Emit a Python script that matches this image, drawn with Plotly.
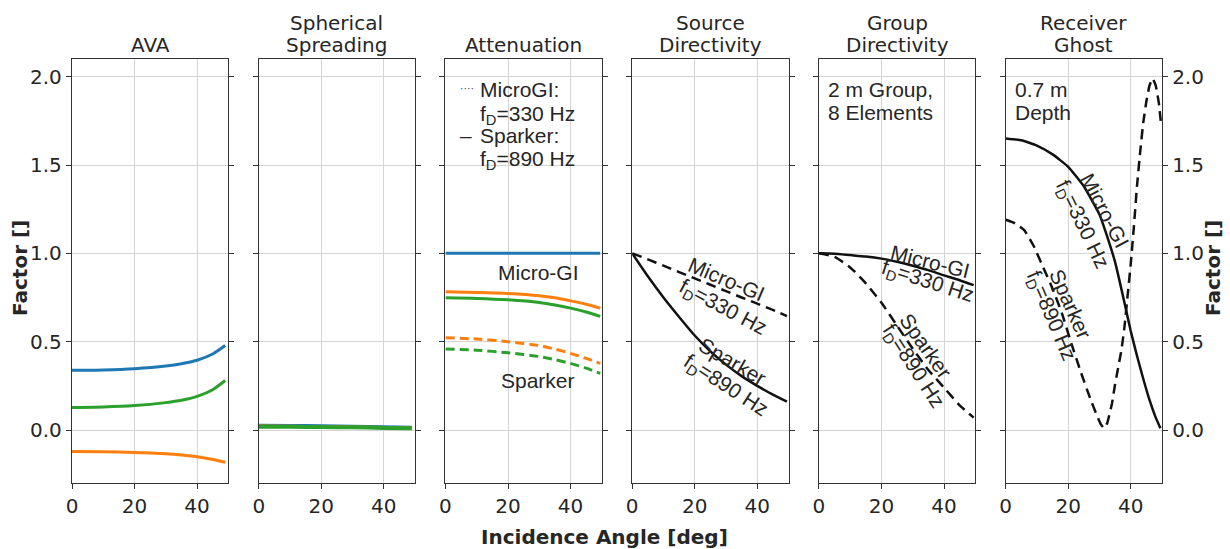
import plotly.graph_objects as go
from plotly.subplots import make_subplots

# ---------------- data ----------------
titles = ["AVA", "Spherical<br>Spreading", "Attenuation", "Source<br>Directivity",
          "Group<br>Directivity", "Receiver<br>Ghost"]

# AVA
ava_ang = [0, 10, 20, 30, 35, 40, 45, 49]
ava_blue = [0.338, 0.340, 0.347, 0.362, 0.375, 0.395, 0.430, 0.478]
ava_green = [0.127, 0.130, 0.138, 0.155, 0.168, 0.190, 0.228, 0.280]
ava_orange = [-0.122, -0.123, -0.127, -0.135, -0.142, -0.152, -0.167, -0.183]

# Spherical spreading
sph_ang = [0, 10, 20, 30, 40, 49]
sph_blue = [0.027, 0.026, 0.024, 0.021, 0.018, 0.015]
sph_orange = [0.022, 0.021, 0.019, 0.017, 0.014, 0.012]
sph_green = [0.019, 0.018, 0.017, 0.015, 0.012, 0.010]

# Attenuation
att_ang = [0, 10, 20, 30, 35, 40, 45, 49.5]
att_blue = [1.0, 1.0, 1.0, 1.0, 1.0, 1.0, 1.0, 1.0]
att_orange_mgi = [0.782, 0.779, 0.773, 0.760, 0.748, 0.731, 0.712, 0.690]
att_green_mgi = [0.748, 0.745, 0.737, 0.722, 0.708, 0.690, 0.668, 0.643]
att_orange_spk = [0.522, 0.515, 0.500, 0.478, 0.458, 0.434, 0.405, 0.377]
att_green_spk = [0.458, 0.452, 0.437, 0.416, 0.398, 0.377, 0.350, 0.320]

# Source directivity
src_ang = [0, 5, 10, 15, 20, 25, 30, 35, 40, 45, 49.5]
src_mgi = [1.0, 0.966, 0.930, 0.894, 0.858, 0.822, 0.786, 0.750, 0.715, 0.680, 0.644]
src_spk = [1.0, 0.87, 0.75, 0.64, 0.535, 0.445, 0.37, 0.305, 0.25, 0.20, 0.16]

# Group directivity
grp_ang = [0, 5, 10, 15, 20, 25, 30, 35, 40, 45, 49.5]
grp_mgi = [1.0, 0.998, 0.99, 0.982, 0.97, 0.952, 0.93, 0.905, 0.875, 0.848, 0.82]
grp_spk = [1.0, 0.98, 0.92, 0.83, 0.72, 0.59, 0.46, 0.34, 0.24, 0.14, 0.07]

# Receiver ghost
gh_ang_mgi = [0, 5, 10, 15, 20, 25, 30, 32, 35, 38, 40, 42, 44, 46, 48, 49.5]
gh_mgi = [1.65, 1.64, 1.61, 1.56, 1.49, 1.38, 1.22, 1.12, 0.95, 0.72, 0.56, 0.42,
          0.29, 0.17, 0.07, 0.01]
gh_ang_spk = [0, 3, 6, 9, 12, 15, 18, 21, 24, 27, 29, 30.5, 31.5, 32.5, 34, 35, 37, 38,
              39, 40, 41, 42, 43, 44, 45, 46, 47, 48, 49, 49.7]
gh_spk = [1.19, 1.17, 1.13, 1.04, 0.92, 0.80, 0.66, 0.49, 0.33, 0.18, 0.09, 0.03, 0.01,
          0.04, 0.15, 0.26, 0.45, 0.585, 0.76, 0.94, 1.15, 1.38, 1.57, 1.74, 1.86, 1.95,
          1.99, 1.95, 1.85, 1.73]

x_ticks = [0, 20, 40]
y_ticks = [0.0, 0.5, 1.0, 1.5, 2.0]
y_tick_text = ["0.0", "0.5", "1.0", "1.5", "2.0"]

BLUE, ORANGE, GREEN, BLACK = "#1f77b4", "#ff7f0e", "#2ca02c", "#111111"
TXT = "#262626"
TICKFONT = dict(family="DejaVu Sans", size=20, color=TXT)
ANNFONT = dict(family="Liberation Sans, Arial", size=21, color=TXT)

L, R, T, B = 72, 68, 59, 66
W, H = 1230, 549
PW, PH = W - L - R, H - T - B

fig = make_subplots(rows=1, cols=6, horizontal_spacing=0.0279)


def line(col, x, y, color, width=3, dash="solid", smooth=0.6):
    fig.add_trace(go.Scatter(x=x, y=y, mode="lines",
                             line=dict(color=color, width=width, dash=dash,
                                       shape="spline", smoothing=smooth),
                             showlegend=False, hoverinfo="skip"), row=1, col=col)


line(1, ava_ang, ava_blue, BLUE)
line(1, ava_ang, ava_green, GREEN)
line(1, ava_ang, ava_orange, ORANGE)

line(2, sph_ang, sph_blue, BLUE)
line(2, sph_ang, sph_orange, ORANGE)
line(2, sph_ang, sph_green, GREEN, width=4)

line(3, att_ang, att_blue, BLUE)
line(3, att_ang, att_orange_mgi, ORANGE)
line(3, att_ang, att_green_mgi, GREEN)
line(3, att_ang, att_orange_spk, ORANGE, dash="9px,5px")
line(3, att_ang, att_green_spk, GREEN, dash="9px,5px")

line(4, src_ang, src_mgi, BLACK, width=2.5, dash="10px,6px")
line(4, src_ang, src_spk, BLACK, width=2.5)

line(5, grp_ang, grp_mgi, BLACK, width=2.5)
line(5, grp_ang, grp_spk, BLACK, width=2.5, dash="10px,6px")

line(6, gh_ang_mgi, gh_mgi, BLACK, width=2.5, smooth=0.4)
line(6, gh_ang_spk, gh_spk, BLACK, width=2.5, dash="10px,6px", smooth=0.3)

for i in range(1, 7):
    fig.update_xaxes(range=[0, 50], tickvals=x_ticks, ticks="outside", ticklen=5, tickwidth=1.2,
                     tickcolor="#333", showline=True, linecolor="#333", linewidth=1.3, mirror=True,
                     showgrid=True, gridcolor="#d4d4d4", gridwidth=1, zeroline=False,
                     tickfont=TICKFONT, automargin=False, row=1, col=i)
    fig.update_yaxes(range=[-0.3, 2.1], tickvals=y_ticks, ticktext=y_tick_text, ticks="outside",
                     ticklen=5, tickwidth=1.2, tickcolor="#333", showline=True, linecolor="#333",
                     linewidth=1.3, mirror="ticks", showgrid=True, gridcolor="#d4d4d4", gridwidth=1,
                     zeroline=False, tickfont=TICKFONT, showticklabels=(i in (1, 6)),
                     automargin=False, row=1, col=i)

fig.update_yaxes(side="right", row=1, col=6)

# axis titles
AXFONT = dict(family="DejaVu Sans", size=20, color=TXT)
yc = (H - B - 268) / PH
fig.add_annotation(text="<b>Factor []</b>", x=0, y=yc, xref="paper", yref="paper", xshift=-52,
                   textangle=-90, showarrow=False, xanchor="center", yanchor="middle", font=AXFONT)
fig.add_annotation(text="<b>Factor []</b>", x=1, y=yc, xref="paper", yref="paper", xshift=51,
                   textangle=-90, showarrow=False, xanchor="center", yanchor="middle", font=AXFONT)
fig.add_annotation(text="<b>Incidence Angle [deg]</b>", x=(604 - L) / PW, y=0, xref="paper",
                   yref="paper", yshift=-54, showarrow=False, xanchor="center", yanchor="middle",
                   font=AXFONT)

# panel titles
for i, t in enumerate(titles):
    xd = fig.layout[f"xaxis{'' if i == 0 else i + 1}"].domain
    xc = (xd[0] + xd[1]) / 2
    parts = t.split("<br>")
    for k, p in enumerate(reversed(parts)):
        fig.add_annotation(text=p, x=xc, y=1, xref="paper", yref="paper", xanchor="center",
                           yanchor="bottom", yshift=0 + 22 * k, showarrow=False,
                           font=dict(family="DejaVu Sans", size=20, color=TXT))


def ann(col, text, x, y, angle=0, anchor="center"):
    xr = "x" if col == 1 else f"x{col}"
    yr = "y" if col == 1 else f"y{col}"
    fig.add_annotation(text=text, x=x, y=y, xref=xr, yref=yr, showarrow=False, textangle=angle,
                       xanchor=anchor, yanchor="middle", font=ANNFONT)


# Attenuation legend and labels
fig.add_annotation(text="····", x=4.0, y=1.935, xref="x3", yref="y3", showarrow=False,
                   xanchor="left", yanchor="middle",
                   font=dict(family="DejaVu Sans", size=11, color="#555"))
fig.add_annotation(text="–", x=4.0, y=1.665, xref="x3", yref="y3", showarrow=False,
                   xanchor="left", yanchor="middle",
                   font=dict(family="Liberation Sans", size=21, color=TXT))
ann(3, "MicroGI:", 10.4, 1.925, anchor="left")
ann(3, "f<sub>D</sub>=330 Hz", 10.4, 1.785, anchor="left")
ann(3, "Sparker:", 10.4, 1.665, anchor="left")
ann(3, "f<sub>D</sub>=890 Hz", 10.4, 1.53, anchor="left")
ann(3, "Micro-GI", 29.6, 0.89)
ann(3, "Sparker", 29.6, 0.28)

# Source directivity labels
ann(4, "Micro-GI", 30.3, 0.85, 23)
ann(4, "f<sub>D</sub>=330 Hz", 29.0, 0.69, 28)
ann(4, "Sparker", 32.2, 0.39, 30)
ann(4, "f<sub>D</sub>=890 Hz", 29.9, 0.25, 33)

# Group directivity labels
ann(5, "2 m Group,", 2.2, 1.925, anchor="left")
ann(5, "8 Elements", 2.2, 1.80, anchor="left")
ann(5, "Micro-GI", 35.6, 0.955, 14)
ann(5, "f<sub>D</sub>=330 Hz", 34.8, 0.84, 18)
ann(5, "Sparker", 34.4, 0.475, 55)
ann(5, "f<sub>D</sub>=890 Hz", 29.9, 0.36, 57)

# Receiver ghost labels
ann(6, "0.7 m", 2.4, 1.925, anchor="left")
ann(6, "Depth", 2.4, 1.80, anchor="left")
ann(6, "Micro-GI", 31.6, 1.24, 62)
ann(6, "f<sub>D</sub>=330 Hz", 24.4, 1.16, 64)
ann(6, "Sparker", 20.9, 0.713, 66)
ann(6, "f<sub>D</sub>=890 Hz", 14.4, 0.645, 67)

fig.update_layout(width=W, height=H, margin=dict(l=L, r=R, t=T, b=B),
                  plot_bgcolor="white", paper_bgcolor="white", showlegend=False)

fig.write_html("out.html", config={"displayModeBar": False},
               post_script="document.body.style.margin='0';document.body.style.overflow='hidden';")
